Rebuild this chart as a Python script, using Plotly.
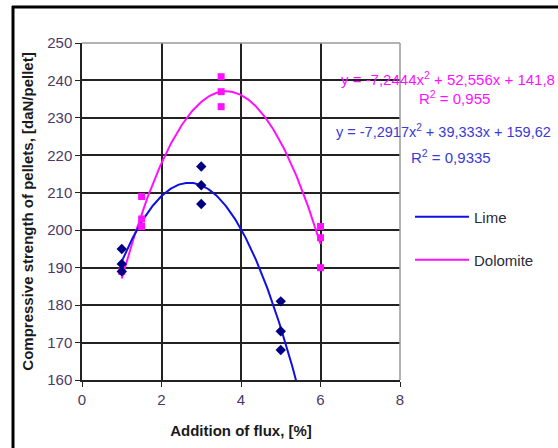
import numpy as np
import plotly.graph_objects as go

# Data
lime_x = [1, 1, 1, 3, 3, 3, 5, 5, 5]
lime_y = [195, 191, 189, 217, 212, 207, 181, 173, 168]
dolo_x = [1, 1.5, 1.5, 1.5, 3.5, 3.5, 3.5, 6, 6, 6]
dolo_y = [189, 209, 203, 201, 241, 237, 233, 201, 198, 190]

# Trendline coefficients as printed on the chart
lime_coef = [-7.2917, 39.333, 159.62]
dolo_coef = [-7.2444, 52.556, 141.8]
lime_eq = "y = -7,2917x<sup>2</sup> + 39,333x + 159,62"
lime_r2 = "R<sup>2</sup> = 0,9335"
dolo_eq = "y = -7,2444x<sup>2</sup> + 52,556x + 141,8"
dolo_r2 = "R<sup>2</sup> = 0,955"

x_ticks = [0, 2, 4, 6, 8]
y_ticks = [160, 170, 180, 190, 200, 210, 220, 230, 240, 250]

L, R, T, B = 82, 158, 43, 68
W, H = 558, 448
PW, PH = W - L - R, H - T - B


def px(x):
    return (x - L) / PW


def py(y):
    return (H - B - y) / PH


BLUE = "#1010e0"
MAG = "#ff10ff"

lx = np.linspace(1, 5.6, 200)
dx = np.linspace(1, 6, 200)

fig = go.Figure()
fig.add_trace(go.Scatter(x=dx, y=np.polyval(dolo_coef, dx), mode="lines",
                         line=dict(color=MAG, width=2), name="Dolomite", legend="legend2"))
fig.add_trace(go.Scatter(x=lx, y=np.polyval(lime_coef, lx), mode="lines",
                         line=dict(color=BLUE, width=2), name="Lime", legend="legend"))
fig.add_trace(go.Scatter(x=dolo_x, y=dolo_y, mode="markers", showlegend=False,
                         marker=dict(symbol="square", size=7, color=MAG)))
fig.add_trace(go.Scatter(x=lime_x, y=lime_y, mode="markers", showlegend=False,
                         marker=dict(symbol="diamond", size=8, color="#000080")))

tickfont = dict(family="Liberation Sans, Arial", size=15, color="#4a3a66")
titlefont = dict(family="Liberation Sans, Arial", size=15, color="#1a1a1a")

fig.update_xaxes(range=[0, 8], tickvals=x_ticks, showgrid=True, gridcolor="#222",
                 gridwidth=1.5, zeroline=False, showline=True, linecolor="#222",
                 linewidth=1.5, mirror=False, ticks="outside", ticklen=5,
                 tickcolor="#222", tickfont=tickfont,
                 title=dict(text="<b>Addition of flux, [%]</b>", font=titlefont, standoff=19))
fig.update_yaxes(range=[160, 250], tickvals=y_ticks, showgrid=True, gridcolor="#222",
                 gridwidth=1.5, zeroline=False, showline=True, linecolor="#222",
                 linewidth=1.5, ticks="outside", ticklen=5, tickcolor="#222",
                 tickfont=tickfont,
                 title=dict(text="<b>Compressive strength of pellets, [daN/pellet]</b>",
                            font=titlefont, standoff=10))

annotations = [
    dict(text=dolo_eq, x=px(339), y=py(78), xanchor="left", yanchor="middle",
         font=dict(color=MAG, family="Liberation Sans, Arial", size=15)),
    dict(text=dolo_r2, x=px(454), y=py(97), xanchor="center", yanchor="middle",
         font=dict(color=MAG, family="Liberation Sans, Arial", size=15)),
    dict(text=lime_eq, x=px(334), y=py(131), xanchor="left", yanchor="middle",
         font=dict(color="#3a3ad8", family="Liberation Sans, Arial", size=14.5)),
    dict(text=lime_r2, x=px(451), y=py(156), xanchor="center", yanchor="middle",
         font=dict(color="#3a3ad8", family="Liberation Sans, Arial", size=15)),
]
for a in annotations:
    a.update(xref="paper", yref="paper", showarrow=False)

shapes = [
    dict(type="line", xref="paper", yref="paper", x0=px(13), x1=px(13), y0=py(6), y1=py(448),
         line=dict(color="black", width=3)),
    dict(type="line", xref="paper", yref="paper", x0=px(12), x1=px(558), y0=py(7), y1=py(7),
         line=dict(color="black", width=3)),
    dict(type="line", xref="paper", yref="paper", x0=0, x1=1, y0=1, y1=1,
         line=dict(color="#999", width=1.5)),
    dict(type="line", xref="paper", yref="paper", x0=1, x1=1, y0=0, y1=1,
         line=dict(color="#999", width=1.5)),
]

legfont = dict(family="Liberation Sans, Arial", size=15, color="#2a2a3a")
fig.update_layout(
    width=W, height=H,
    margin=dict(l=L, r=R, t=T, b=B),
    paper_bgcolor="white", plot_bgcolor="white",
    annotations=annotations, shapes=shapes,
    legend=dict(x=px(410), y=py(217), xanchor="left", yanchor="middle",
                font=legfont, bgcolor="rgba(0,0,0,0)", itemwidth=54),
    legend2=dict(x=px(410), y=py(260), xanchor="left", yanchor="middle",
                 font=legfont, bgcolor="rgba(0,0,0,0)", itemwidth=54),
)

fig.write_html("out.html")
